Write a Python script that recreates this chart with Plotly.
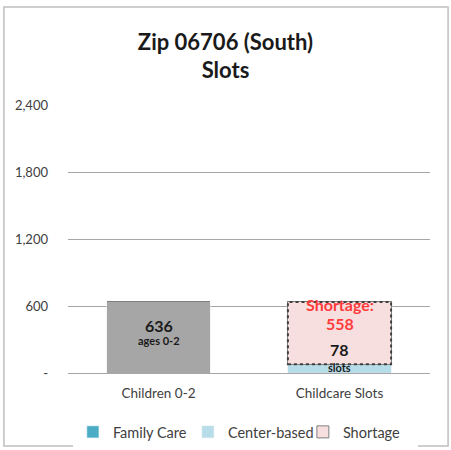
import plotly.graph_objects as go

categories = ["Children 0-2", "Childcare Slots"]
children = [636, 0]
family_care = [0, 8]
center_based = [0, 70]
shortage = [0, 558]
slots_total = 78
children_count = 636
shortage_count = 558
y_ticks = [0, 600, 1200, 1800, 2400]
y_ticktext = ["-", "600", "1,200", "1,800", "2,400"]

FONT = "Lato, Calibri, Carlito, sans-serif"
bar_width = 0.57

fig = go.Figure()
fig.add_bar(x=categories, y=children, name="Children", marker_color="#a6a6a6",
            width=bar_width, showlegend=False)
fig.add_bar(x=categories, y=family_care, name="Family Care", marker_color="#4bacc6",
            width=bar_width)
fig.add_bar(x=categories, y=center_based, name="Center-based", marker_color="#b7dee8",
            width=bar_width)
fig.add_bar(x=categories, y=shortage, name="Shortage", marker_color="#f8dfdf",
            marker_line=dict(color="#7f7f7f", width=1), width=bar_width)

# dotted outline for shortage
fig.add_shape(type="rect", xref="x", yref="y",
              x0=1 - bar_width / 2, x1=1 + bar_width / 2,
              y0=slots_total, y1=slots_total + shortage_count,
              line=dict(color="#404040", width=2, dash="dot"), fillcolor="rgba(0,0,0,0)")

# labels
fig.add_annotation(x=0, y=children_count * 0.67, text="<b>636</b>", showarrow=False,
                   font=dict(family=FONT, size=16, color="#1a1a1a"))
fig.add_annotation(x=0, y=children_count * 0.46, text="<b>ages 0-2</b>", showarrow=False,
                   font=dict(family=FONT, size=11, color="#1a1a1a"))
fig.add_annotation(x=1, y=slots_total + shortage_count * 0.96, text="<b>Shortage:</b>",
                   showarrow=False, font=dict(family=FONT, size=16, color="#ff3b3b"))
fig.add_annotation(x=1, y=slots_total + shortage_count * 0.66, text="<b>558</b>",
                   showarrow=False, font=dict(family=FONT, size=16, color="#ff3b3b"))
fig.add_annotation(x=1, y=slots_total + shortage_count * 0.23, text="<b>78</b>",
                   showarrow=False, font=dict(family=FONT, size=16, color="#1a1a1a"))
fig.add_annotation(x=1, y=slots_total * 0.58, text="<b>slots</b>",
                   showarrow=False, font=dict(family=FONT, size=11, color="#1a1a1a"))

# outer chart border
fig.add_shape(type="rect", xref="paper", yref="paper",
              x0=-0.177, x1=1.05, y0=-0.272, y1=1.366,
              line=dict(color="#bfbfbf", width=1.5), layer="below")

fig.update_layout(
    width=451, height=450,
    margin=dict(l=68, r=21, t=105, b=77, autoexpand=False),
    paper_bgcolor="white", plot_bgcolor="white",
    barmode="stack", bargap=0.43,
    title=dict(text="<b>Zip 06706 (South)<br>Slots</b>", x=0.5, xanchor="center",
               y=0.89, yanchor="middle",
               font=dict(family=FONT, size=22, color="#1a1a1a")),
    font=dict(family=FONT, size=14, color="#404040"),
    xaxis=dict(showgrid=False, showline=False, ticks="", ticklabelstandoff=10,
               tickfont=dict(family=FONT, size=13.5, color="#404040")),
    yaxis=dict(range=[0, 2400], tickvals=y_ticks, ticktext=y_ticktext,
               showgrid=True, gridcolor="#a6a6a6", gridwidth=1,
               zeroline=True, zerolinecolor="#a6a6a6", zerolinewidth=1,
               tickfont=dict(family=FONT, size=13, color="#404040"), ticklabelstandoff=19),
    legend=dict(orientation="h", x=0.49, xanchor="center", y=-0.22, yanchor="middle",
                font=dict(family=FONT, size=14.5, color="#404040"),
                itemwidth=30, traceorder="normal",
                entrywidth=70, entrywidthmode="pixels"),
)

fig.write_html("out.html", config={"displayModeBar": False},
               post_script="document.body.style.margin='0';")
